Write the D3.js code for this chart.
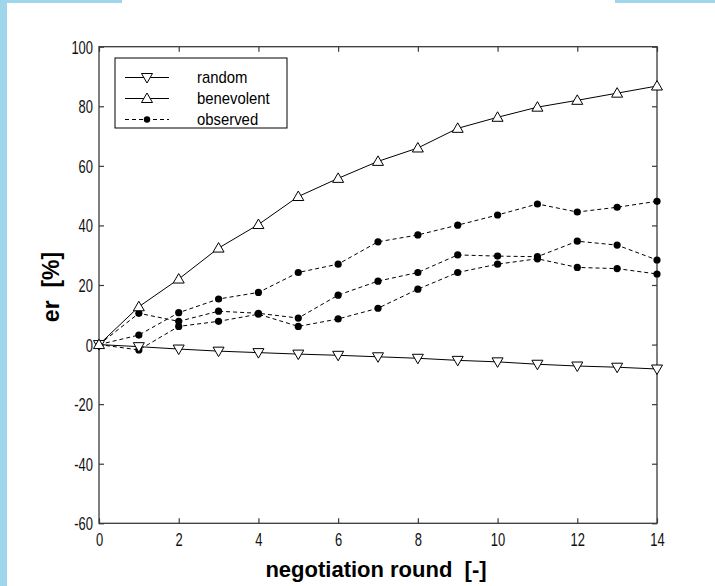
<!DOCTYPE html>
<html><head><meta charset="utf-8">
<script src="https://cdn.jsdelivr.net/npm/d3@7"></script>
<style>
html,body{margin:0;padding:0;background:#fff;}
svg{display:block;}
</style></head>
<body>
<svg id="chart" width="715" height="586"></svg>
<script>
const rounds = [0,1,2,3,4,5,6,7,8,9,10,11,12,13,14];
const randomVals = [0,-0.7,-1.5,-2.2,-2.7,-3.2,-3.6,-4.1,-4.6,-5.3,-5.8,-6.6,-7.2,-7.6,-8.2];
const benevolentVals = [0,12.7,22,32.4,40.3,49.7,55.8,61.5,66,72.6,76.3,79.7,82,84.4,86.8];
const observedA = [0,3.2,10.7,15.3,17.5,24.2,27,34.5,36.8,40.1,43.5,47.2,44.5,46.1,48.1];
const observedB = [0,10.5,7.8,11.2,10.5,8.9,16.6,21.3,24.2,30.1,29.7,29.5,34.7,33.4,28.4];
const observedC = [0,-1.8,6.1,7.8,10.2,6.1,8.6,12.2,18.6,24.2,27,28.8,25.9,25.5,23.7];
const xTicks = [0,2,4,6,8,10,12,14];
const yTicks = [-60,-40,-20,0,20,40,60,80,100];
const legendLabels = ["random","benevolent","observed"];

const svg = d3.select("#chart");
const W = 715, H = 586;
const L = 99, R = 657, T = 46.7, B = 523.3;

svg.append("rect").attr("x",0).attr("y",0).attr("width",W).attr("height",H).attr("fill","#fff");
svg.append("rect").attr("x",0).attr("y",0).attr("width",7).attr("height",H).attr("fill","#9fd6ec");
svg.append("rect").attr("x",0).attr("y",0).attr("width",122).attr("height",3).attr("fill","#9fd6ec");
svg.append("rect").attr("x",615).attr("y",0).attr("width",100).attr("height",3).attr("fill","#9fd6ec");

const x = d3.scaleLinear().domain([0,14]).range([L,R]);
const y = d3.scaleLinear().domain([-60,100]).range([B,T]);

const axisColor = "#3a3a3a";
const sx = 0.72;
const fmt = d => String(d);

function styleAxis(g){
  g.select(".domain").remove();
  g.selectAll(".tick line").attr("stroke",axisColor).attr("stroke-width",1.2);
  g.selectAll("text").attr("fill","#111")
    .attr("font-family","'Liberation Sans', Arial, sans-serif").attr("font-size",18);
}

const gB = svg.append("g").attr("transform",`translate(0,${B})`)
  .call(d3.axisBottom(x).tickValues(xTicks).tickFormat(fmt).tickSizeInner(-5).tickSizeOuter(0).tickPadding(10));
styleAxis(gB);
gB.selectAll("text").attr("transform",`scale(${sx},1)`);

const gT = svg.append("g").attr("transform",`translate(0,${T})`)
  .call(d3.axisTop(x).tickValues(xTicks).tickFormat("").tickSizeInner(-5).tickSizeOuter(0));
styleAxis(gT);

const gL = svg.append("g").attr("transform",`translate(${L},0)`)
  .call(d3.axisLeft(y).tickValues(yTicks).tickFormat(fmt).tickSizeInner(-5).tickSizeOuter(0).tickPadding(0));
styleAxis(gL);
gL.selectAll("text").attr("x",-6/sx).attr("dy","0.36em").attr("transform",`scale(${sx},1)`);

const gR = svg.append("g").attr("transform",`translate(${R},0)`)
  .call(d3.axisRight(y).tickValues(yTicks).tickFormat("").tickSizeInner(-5).tickSizeOuter(0));
styleAxis(gR);

svg.append("rect").attr("x",L).attr("y",T).attr("width",R-L).attr("height",B-T)
  .attr("fill","none").attr("stroke",axisColor).attr("stroke-width",1.3);

const line = d3.line().x((d,i)=>x(rounds[i])).y(d=>y(d));

[observedA, observedB, observedC].forEach(s=>{
  svg.append("path").datum(s).attr("d",line).attr("fill","none")
    .attr("stroke","#000").attr("stroke-width",1).attr("stroke-dasharray","4,3");
});
[randomVals, benevolentVals].forEach(s=>{
  svg.append("path").datum(s).attr("d",line).attr("fill","none")
    .attr("stroke","#000").attr("stroke-width",1);
});

const triUp = (cx,cy)=>`M${cx},${cy-5.5}L${cx+5.5},${cy+4}L${cx-5.5},${cy+4}Z`;
const triDown = (cx,cy)=>`M${cx},${cy+5.5}L${cx+5.5},${cy-4}L${cx-5.5},${cy-4}Z`;

[observedA, observedB, observedC].forEach(s=>{
  svg.append("g").selectAll("circle").data(s).join("circle")
    .attr("cx",(d,i)=>x(rounds[i])).attr("cy",d=>y(d)).attr("r",3.6).attr("fill","#000");
});
svg.append("g").selectAll("path").data(randomVals).join("path")
  .attr("d",(d,i)=>triDown(x(rounds[i]),y(d))).attr("fill","#fff").attr("stroke","#000").attr("stroke-width",1);
svg.append("g").selectAll("path").data(benevolentVals).join("path")
  .attr("d",(d,i)=>triUp(x(rounds[i]),y(d))).attr("fill","#fff").attr("stroke","#000").attr("stroke-width",1);

const lg = svg.append("g");
lg.append("rect").attr("x",115).attr("y",58).attr("width",172).attr("height",70)
  .attr("fill","#fff").attr("stroke","#000").attr("stroke-width",1);
const rowsY = [77.5, 98.5, 119.5];
legendLabels.forEach((lab,i)=>{
  const yy = rowsY[i];
  lg.append("line").attr("x1",125).attr("x2",169).attr("y1",yy).attr("y2",yy)
    .attr("stroke","#000").attr("stroke-width",1)
    .attr("stroke-dasharray", i===2 ? "4,3" : null);
  if(i===0) lg.append("path").attr("d",triDown(147,yy)).attr("fill","#fff").attr("stroke","#000");
  if(i===1) lg.append("path").attr("d",triUp(147,yy)).attr("fill","#fff").attr("stroke","#000");
  if(i===2) lg.append("circle").attr("cx",147).attr("cy",yy).attr("r",3.2).attr("fill","#000");
  lg.append("text").attr("x",197).attr("y",yy).attr("dy","0.35em")
    .attr("font-family","'Liberation Sans', Arial, sans-serif").attr("font-size",16)
    .attr("transform",`translate(197,0) scale(0.93,1) translate(-197,0)`).text(lab);
});

svg.append("text").attr("x",376).attr("y",577).attr("text-anchor","middle")
  .attr("font-family","'Liberation Sans', Arial, sans-serif").attr("font-size",22)
  .attr("font-weight","bold").attr("xml:space","preserve").text("negotiation round  [-]");
svg.append("text").attr("transform","translate(59,287) rotate(-90)").attr("text-anchor","middle")
  .attr("font-family","'Liberation Sans', Arial, sans-serif").attr("font-size",23)
  .attr("font-weight","bold").attr("xml:space","preserve").text("er  [%]");
</script>
</body></html>
